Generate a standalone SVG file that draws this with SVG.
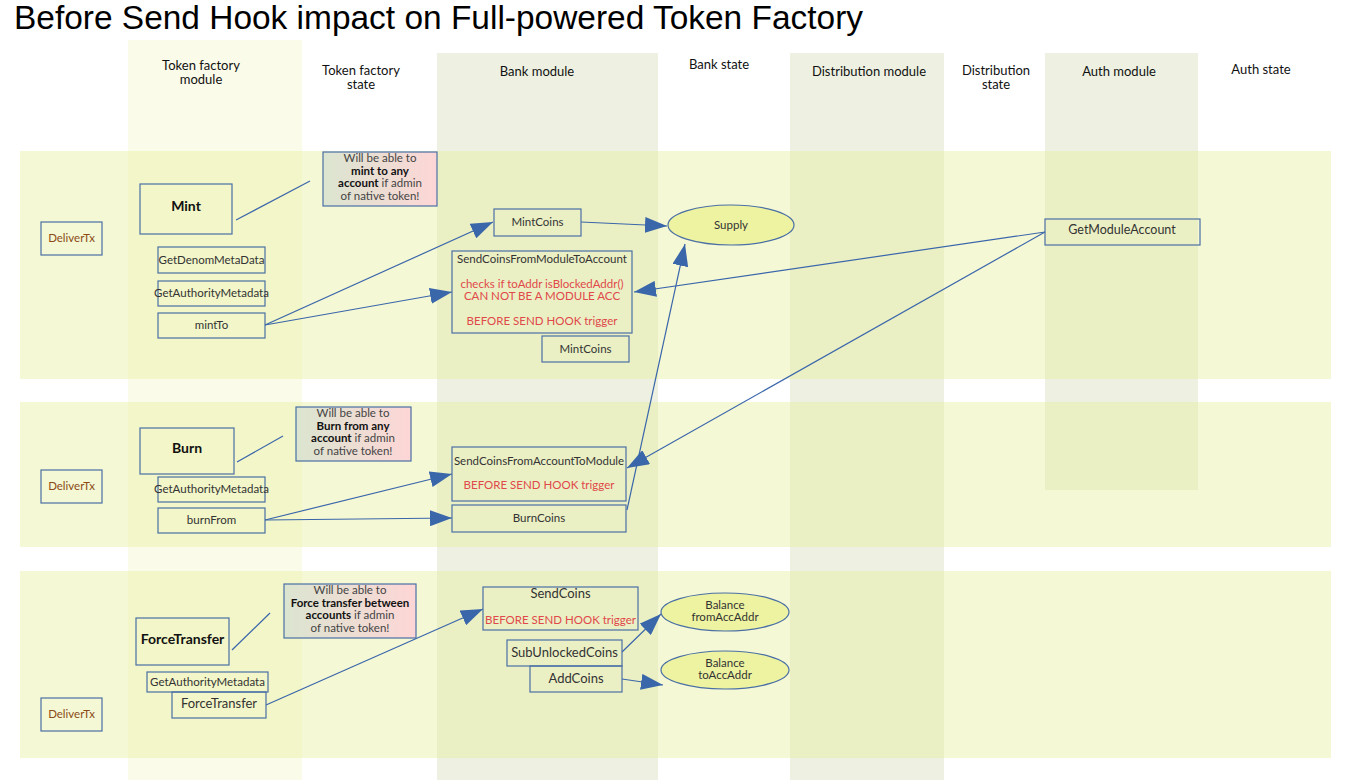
<svg xmlns="http://www.w3.org/2000/svg" width="1351" height="780" viewBox="0 0 1351 780">
<defs>
<marker id="ah" markerUnits="userSpaceOnUse" markerWidth="22" markerHeight="16" refX="22" refY="8" orient="auto">
<path d="M0,0 L22,8 L0,16 z" fill="#3a66aa"/>
</marker>
<linearGradient id="ng" x1="0" y1="0" x2="1" y2="0">
<stop offset="0" stop-color="#dbe5d0"/>
<stop offset="1" stop-color="#fdd6d6"/>
</linearGradient>
<style>
text{font-family:Lato,"Noto Sans","Liberation Sans",sans-serif;fill:#333;}
.title{font-family:"Liberation Sans",Arial,sans-serif;font-size:33px;fill:#000;}
.hdr{font-size:13px;text-anchor:middle;fill:#111;}
.col{fill:#eef1e2;}
.band{fill:#e6ee9c;fill-opacity:0.42;}
.box{fill:none;stroke:#4a6fa5;stroke-width:1.2;}
.note{fill:url(#ng);stroke:#4a6fa5;stroke-width:1.2;}
.t{font-size:11.5px;text-anchor:middle;}
.tb{font-size:14px;text-anchor:middle;font-weight:bold;fill:#111;}
.red{font-size:11.5px;text-anchor:middle;fill:#e0484a;}
.dtx{font-size:11.5px;text-anchor:middle;fill:#8a4b16;}
.nt{font-size:11.5px;text-anchor:middle;fill:#444;}
.b{font-weight:bold;fill:#111;}
.ell{fill:#edf3a1;stroke:#4a6fa5;stroke-width:1.2;}
.c{stroke:#3a66aa;stroke-width:1.2;fill:none;}
.ca{stroke:#3a66aa;stroke-width:1.2;fill:none;marker-end:url(#ah);}
</style>
</defs>
<rect width="1351" height="780" fill="#fff"/>
<text class="title" x="14" y="29" textLength="849" lengthAdjust="spacingAndGlyphs">Before Send Hook impact on Full-powered Token Factory</text>

<g id="columns">
<rect x="128" y="40" width="174" height="740" fill="#fafbe9"/>
<rect class="col" x="437" y="53" width="221" height="727"/>
<rect class="col" x="790" y="53" width="154" height="727"/>
<rect class="col" x="1045" y="53" width="153" height="437"/>
</g>
<g id="bands">
<rect class="band" x="20" y="151" width="1311" height="228"/>
<rect class="band" x="20" y="402" width="1311" height="145"/>
<rect class="band" x="20" y="571" width="1311" height="187"/>
</g>
<g id="headers">
<text class="hdr" x="201" y="70">Token factory</text>
<text class="hdr" x="201" y="84">module</text>
<text class="hdr" x="361" y="75">Token factory</text>
<text class="hdr" x="361" y="89">state</text>
<text class="hdr" x="537" y="76">Bank module</text>
<text class="hdr" x="719" y="69">Bank  state</text>
<text class="hdr" x="869" y="76">Distribution module</text>
<text class="hdr" x="996" y="75">Distribution</text>
<text class="hdr" x="996" y="89">state</text>
<text class="hdr" x="1119" y="76">Auth module</text>
<text class="hdr" x="1261" y="74">Auth state</text>
</g>

<g id="connectors">
<line class="c" x1="236" y1="220" x2="310" y2="181"/>
<line class="c" x1="237" y1="462" x2="283" y2="436"/>
<line class="c" x1="232" y1="650" x2="270" y2="613"/>
<line class="ca" x1="265" y1="325" x2="493" y2="222"/>
<line class="ca" x1="265" y1="325" x2="452" y2="292"/>
<line class="ca" x1="581" y1="222" x2="667" y2="226"/>
<line class="ca" x1="1045" y1="232" x2="634" y2="292"/>
<line class="ca" x1="1045" y1="232" x2="627" y2="468"/>
<line class="ca" x1="627" y1="510" x2="685" y2="244"/>
<line class="ca" x1="265" y1="520" x2="452" y2="474"/>
<line class="ca" x1="265" y1="520" x2="452" y2="518"/>
<line class="ca" x1="266" y1="705" x2="483" y2="609"/>
<line class="ca" x1="622" y1="652" x2="661" y2="614"/>
<line class="ca" x1="622" y1="679" x2="663" y2="685"/>
</g>

<g id="deliverTx1"><rect class="box" x="41" y="222" width="61" height="33"/><text class="dtx" x="71.5" y="242">DeliverTx</text></g>
<g id="mint"><rect class="box" x="140" y="184" width="92" height="50"/><text class="tb" x="186" y="211">Mint</text></g>
<g id="getDenomMetaData"><rect class="box" x="158" y="247" width="107" height="26"/><text class="t" x="211.5" y="264">GetDenomMetaData</text></g>
<g id="getAuthorityMetadata1"><rect class="box" x="158" y="281" width="107" height="25"/><text class="t" x="211.5" y="297">GetAuthorityMetadata</text></g>
<g id="mintTo"><rect class="box" x="158" y="313" width="107" height="25"/><text class="t" x="211.5" y="329">mintTo</text></g>
<g id="note1"><rect class="note" x="323" y="152" width="114" height="54"/>
<text class="nt" x="380" y="162">Will be able to</text>
<text class="nt b" x="380" y="175">mint to any</text>
<text class="nt" x="380" y="187"><tspan class="b">account</tspan> if admin</text>
<text class="nt" x="380" y="200">of native token!</text></g>
<g id="mintCoins1"><rect class="box" x="494" y="209" width="87" height="27"/><text class="t" x="537.5" y="226">MintCoins</text></g>
<g id="sendCoinsFromModuleToAccount"><rect class="box" x="452" y="251" width="180" height="82"/>
<text class="t" x="542" y="263">SendCoinsFromModuleToAccount</text>
<text class="red" x="542" y="288">checks if toAddr isBlockedAddr()</text>
<text class="red" x="542" y="300">CAN NOT BE A MODULE ACC</text>
<text class="red" x="542" y="325">BEFORE SEND HOOK trigger</text></g>
<g id="mintCoins2"><rect class="box" x="542" y="336" width="87" height="26"/><text class="t" x="585.5" y="353">MintCoins</text></g>
<g id="supply"><ellipse class="ell" cx="731" cy="225" rx="63" ry="20"/><text class="t" x="731" y="229">Supply</text></g>
<g id="getModuleAccount"><rect class="box" x="1045" y="219" width="155" height="26"/><text class="t" x="1122" y="234" style="font-size:12.5px">GetModuleAccount</text></g>

<g id="deliverTx2"><rect class="box" x="41" y="470" width="61" height="33"/><text class="dtx" x="71.5" y="490">DeliverTx</text></g>
<g id="burn"><rect class="box" x="140" y="428" width="94" height="46"/><text class="tb" x="187" y="453">Burn</text></g>
<g id="getAuthorityMetadata2"><rect class="box" x="158" y="477" width="107" height="25"/><text class="t" x="211.5" y="493">GetAuthorityMetadata</text></g>
<g id="burnFrom"><rect class="box" x="158" y="508" width="107" height="25"/><text class="t" x="211.5" y="524">burnFrom</text></g>
<g id="note2"><rect class="note" x="296" y="407" width="115" height="54"/>
<text class="nt" x="353" y="417">Will be able to</text>
<text class="nt b" x="353" y="430">Burn from any</text>
<text class="nt" x="353" y="442"><tspan class="b">account</tspan> if admin</text>
<text class="nt" x="353" y="455">of native token!</text></g>
<g id="sendCoinsFromAccountToModule"><rect class="box" x="452" y="447" width="174" height="54"/>
<text class="t" x="539" y="465">SendCoinsFromAccountToModule</text>
<text class="red" x="539" y="489">BEFORE SEND HOOK trigger</text></g>
<g id="burnCoins"><rect class="box" x="452" y="505" width="174" height="27"/><text class="t" x="539" y="522">BurnCoins</text></g>

<g id="deliverTx3"><rect class="box" x="41" y="698" width="61" height="33"/><text class="dtx" x="71.5" y="718">DeliverTx</text></g>
<g id="forceTransfer"><rect class="box" x="136" y="618" width="93" height="47"/><text class="tb" x="182.5" y="644">ForceTransfer</text></g>
<g id="getAuthorityMetadata3"><rect class="box" x="147" y="672" width="121" height="20"/><text class="t" x="207.5" y="686">GetAuthorityMetadata</text></g>
<g id="forceTransferMsg"><rect class="box" x="172" y="692" width="94" height="26"/><text class="t" x="219" y="708" style="font-size:13px">ForceTransfer</text></g>
<g id="note3"><rect class="note" x="284" y="584" width="132" height="54"/>
<text class="nt" x="350" y="594">Will be able to</text>
<text class="nt b" x="350" y="607">Force transfer between</text>
<text class="nt" x="350" y="619"><tspan class="b">accounts</tspan> if admin</text>
<text class="nt" x="350" y="632">of native token!</text></g>
<g id="sendCoins"><rect class="box" x="483" y="587" width="155" height="43"/>
<text class="t" x="560.5" y="598" style="font-size:13px">SendCoins</text>
<text class="red" x="560.5" y="624">BEFORE SEND HOOK trigger</text></g>
<g id="subUnlockedCoins"><rect class="box" x="507" y="640" width="115" height="26"/><text class="t" x="564.5" y="657" style="font-size:13px">SubUnlockedCoins</text></g>
<g id="addCoins"><rect class="box" x="530" y="666" width="92" height="26"/><text class="t" x="576" y="683" style="font-size:13px">AddCoins</text></g>
<g id="balanceFrom"><ellipse class="ell" cx="725" cy="612" rx="64" ry="19"/><text class="t" x="725" y="609">Balance</text><text class="t" x="725" y="621">fromAccAddr</text></g>
<g id="balanceTo"><ellipse class="ell" cx="725" cy="670" rx="64" ry="19"/><text class="t" x="725" y="667">Balance</text><text class="t" x="725" y="679">toAccAddr</text></g>
</svg>
